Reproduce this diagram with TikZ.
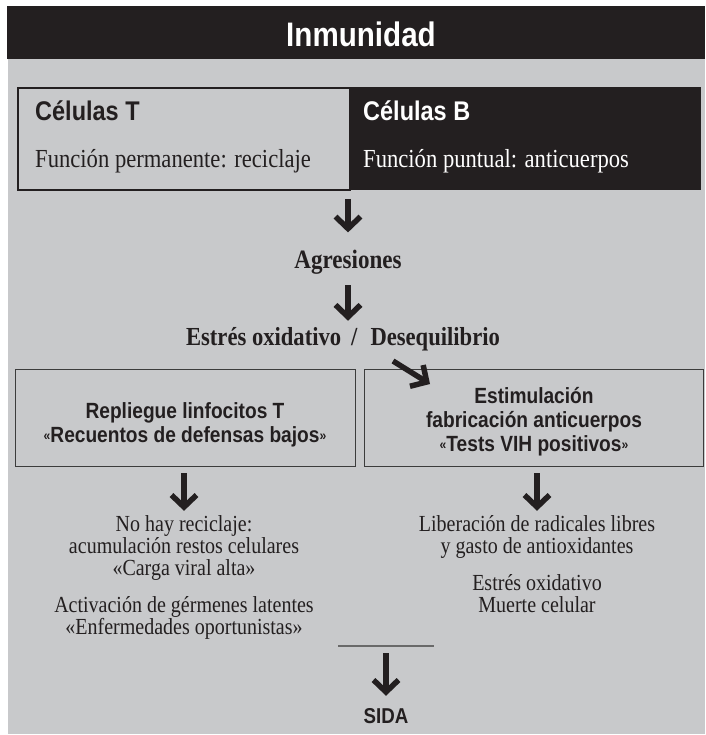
\documentclass[tikz,border=0pt]{standalone}
\usepackage{fontspec}
\setmainfont{Liberation Serif}[FakeStretch=0.87]
\newfontfamily\hsans{Liberation Sans}[FakeStretch=0.87]
\usetikzlibrary{arrows.meta}
\definecolor{bggray}{RGB}{200,201,203}
\definecolor{ink}{RGB}{35,31,32}
\definecolor{frame}{RGB}{60,60,60}
\definecolor{rulecol}{RGB}{105,105,105}
\newcommand\sgl{\raisebox{1.5pt}{\fontsize{14}{14}\selectfont«}}
\newcommand\sgr{\raisebox{1.5pt}{\fontsize{14}{14}\selectfont»}}
\begin{document}
\begin{tikzpicture}[x=1pt,y=-1pt,
  fat/.style={line width=5.5pt, draw=ink, -{Straight Barb[length=12pt,width=25pt]}},
  txt/.style={inner sep=0pt, anchor=base, text=ink},
  hbig/.style={txt, font=\hsans\bfseries\fontsize{34}{36}\selectfont},
  hmid/.style={txt, font=\hsans\bfseries\fontsize{27}{30}\selectfont},
  hbox/.style={txt, font=\hsans\bfseries\fontsize{22}{24}\selectfont},
  sbody/.style={txt, font=\fontsize{26}{28}\selectfont},
  sbold/.style={txt, font=\bfseries\fontsize{26.5}{28}\selectfont},
  slow/.style={txt, font=\fontsize{23}{24}\selectfont},
  panel/.style={draw=frame, line width=1.3pt, inner sep=0pt, anchor=north west}
]
\useasboundingbox (0,0) rectangle (705,735);
\fill[bggray] (8,59) rectangle (705,734);
\node[fill=ink, inner sep=0pt, minimum width=698pt, minimum height=53pt, anchor=north west] (hdr) at (7,6) {};
\node[hbig, text=white] (title) at (361,47) {Inmunidad};

% top panel
\node[fill=ink, inner sep=0pt, minimum width=352pt, minimum height=103pt, anchor=north west] (boxB) at (349,87) {};
\node[draw=ink, line width=2pt, inner sep=0pt, minimum width=332pt, minimum height=102pt, anchor=north west] (boxT) at (17,87) {};
\node[hmid, anchor=base west] (ct) at (35,121) {Células T};
\node[sbody, anchor=base west] (ft) at (35,168) {Función permanente: reciclaje};
\node[hmid, anchor=base west, text=white] (cb) at (363,121) {Células B};
\node[sbody, anchor=base west, text=white] (fb) at (363,168) {Función puntual: anticuerpos};

% middle chain
\node[sbold] (agr) at (348,268) {Agresiones};
\node[sbold, font=\bfseries\fontsize{26}{28}\selectfont] (estr) at (343,345) {Estrés oxidativo\hspace{10pt}/\hspace{13pt}Desequilibrio};
\draw[fat, shorten <=8pt, shorten >=17pt] (agr.north |- boxT.south) -- (agr.north);
\draw[fat, shorten <=11pt, shorten >=6pt] (agr.south) -- (agr.south |- estr.north);

% two boxes
\node[panel, minimum width=340pt, minimum height=97pt] (boxL) at (15,369) {};
\node[panel, minimum width=339pt, minimum height=97pt] (boxR) at (364,369) {};
\node[hbox] (rl1) at (185,418) {Repliegue linfocitos T};
\node[hbox] (rl2) at (185,442) {\sgl Recuentos de defensas bajos\sgr};
\node[hbox] (rr1) at (534,403) {Estimulación};
\node[hbox] (rr2) at (534,427) {fabricación anticuerpos};
\node[hbox] (rr3) at (534,451) {\sgl Tests VIH positivos\sgr};
\coordinate (dgs) at (393,361);
\coordinate (dge) at (430,384);
\draw[fat] (dgs) -- (dge);

% lower texts
\node[slow] (l1) at (184,531) {No hay reciclaje:};
\node[slow] (l2) at (184,553) {acumulación restos celulares};
\node[slow] (l3) at (184,575) {«Carga viral alta»};
\node[slow] (l4) at (184,612) {Activación de gérmenes latentes};
\node[slow] (l5) at (184,634) {«Enfermedades oportunistas»};
\node[slow] (r1) at (537,531) {Liberación de radicales libres};
\node[slow] (r2) at (537,553) {y gasto de antioxidantes};
\node[slow] (r3) at (537,590) {Estrés oxidativo};
\node[slow] (r4) at (537,612) {Muerte celular};
\draw[fat, shorten <=6pt, shorten >=4pt] (l1.north |- boxL.south) -- (l1.north);
\draw[fat, shorten <=6pt, shorten >=4pt] (r1.north |- boxR.south) -- (r1.north);

% bottom
\coordinate (barL) at (338,646);
\coordinate (barR) at (434,646);
\draw[rulecol, line width=1.7pt] (barL) -- (barR);
\node[hbox, font=\hsans\bfseries\fontsize{21.5}{23}\selectfont] (sida) at (386,723) {SIDA};
\draw[fat, shorten <=7pt, shorten >=12pt] (sida.north |- barL) -- (sida.north);
\end{tikzpicture}
\end{document}
